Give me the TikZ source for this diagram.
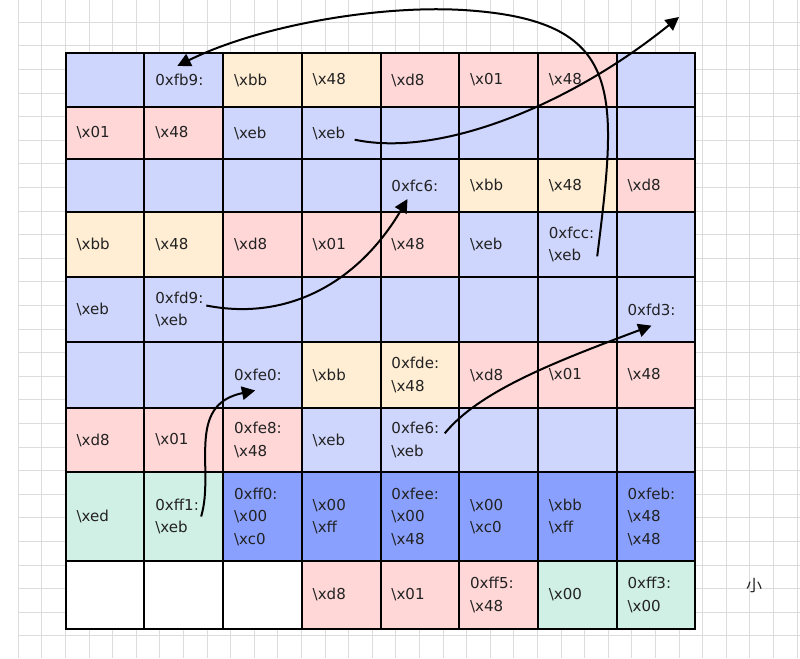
\documentclass[tikz,border=0pt]{standalone}
\usepackage{fontspec}
\setmainfont{DejaVu Sans}
\newfontfamily\cjkfont{Noto Sans CJK SC}
\usetikzlibrary{arrows.meta}
\definecolor{memBlue}{HTML}{CFD6FE}
\definecolor{memPink}{HTML}{FFD7D7}
\definecolor{memYel}{HTML}{FFEDD4}
\definecolor{memMint}{HTML}{D0F0E6}
\definecolor{memDeep}{HTML}{8AA0FF}
\definecolor{memGrid}{HTML}{DCDCDC}
\definecolor{memText}{HTML}{222222}
\newcommand\hx[1]{\textbackslash x#1}

\begin{document}
\begin{tikzpicture}[x=0.75pt, y=-0.75pt,
  gridline/.style={memGrid, line width=0.75pt},
  cell/.style={draw=black, line width=1.5pt, minimum width=59.03pt, inner sep=0pt, outer sep=0pt},
  lbl/.style={anchor=west, inner sep=0pt, align=left, text=memText, font=\fontsize{11.3}{16.9}\selectfont},
  jump/.style={line width=1.5pt, -{Triangle[length=10pt, width=10pt]}}]
  \useasboundingbox (0,0) rectangle (800,658);
  % background grid
  \foreach \gx in {18.3,41.9,...,800} \draw[gridline] (\gx,0) -- (\gx,658);
  \foreach \gy in {22.3,45.9,...,658} \draw[gridline] (18.3,\gy) -- (800,\gy);

  % memory cells, one row at a time
  \foreach \r/\yc/\h/\cells in {
    0/80/40.05/{memBlue/{}, memBlue/{0xfb9:}, memYel/{\hx{bb}}, memYel/{\hx{48}}, memPink/{\hx{d8}}, memPink/{\hx{01}}, memPink/{\hx{48}}, memBlue/{}},
    1/133/39.45/{memPink/{\hx{01}}, memPink/{\hx{48}}, memBlue/{\hx{eb}}, memBlue/{\hx{eb}}, memBlue/{}, memBlue/{}, memBlue/{}, memBlue/{}},
    2/185.65/39.5/{memBlue/{}, memBlue/{}, memBlue/{}, memBlue/{}, memBlue/{0xfc6:}, memYel/{\hx{bb}}, memYel/{\hx{48}}, memPink/{\hx{d8}}},
    3/244.35/48.5/{memYel/{\hx{bb}}, memYel/{\hx{48}}, memPink/{\hx{d8}}, memPink/{\hx{01}}, memPink/{\hx{48}}, memBlue/{\hx{eb}}, memBlue/{0xfcc:\\\hx{eb}}, memBlue/{}},
    4/309.5/49.2/{memBlue/{\hx{eb}}, memBlue/{0xfd9:\\\hx{eb}}, memBlue/{}, memBlue/{}, memBlue/{}, memBlue/{}, memBlue/{}, memBlue/{0xfd3:}},
    5/375/49.05/{memBlue/{}, memBlue/{}, memBlue/{0xfe0:}, memYel/{\hx{bb}}, memYel/{0xfde:\\\hx{48}}, memPink/{\hx{d8}}, memPink/{\hx{01}}, memPink/{\hx{48}}},
    6/440/48.45/{memPink/{\hx{d8}}, memPink/{\hx{01}}, memPink/{0xfe8:\\\hx{48}}, memBlue/{\hx{eb}}, memBlue/{0xfe6:\\\hx{eb}}, memBlue/{}, memBlue/{}, memBlue/{}},
    7/516.5/66.3/{memMint/{\hx{ed}}, memMint/{0xff1:\\\hx{eb}}, memDeep/{0xff0:\\\hx{00}\\\hx{c0}}, memDeep/{\hx{00}\\\hx{ff}}, memDeep/{0xfee:\\\hx{00}\\\hx{48}}, memDeep/{\hx{00}\\\hx{c0}}, memDeep/{\hx{bb}\\\hx{ff}}, memDeep/{0xfeb:\\\hx{48}\\\hx{48}}},
    8/594.85/51.2/{white/{}, white/{}, white/{}, memPink/{\hx{d8}}, memPink/{\hx{01}}, memPink/{0xff5:\\\hx{48}}, memMint/{\hx{00}}, memMint/{0xff3:\\\hx{00}}}}
  {
    \foreach \f/\t [count=\c from 0] in \cells {
      \node[cell, fill=\f, minimum height=\h pt] (c\r\c) at (105.05+78.7*\c, \yc) {};
      \ifx\t\empty\else
        \node[lbl] (t\r\c) at ([xshift=8pt]c\r\c.west) {\t};
      \fi
    }
  }

  % jumps
  \coordinate (outside) at (679,17);
  \draw[jump] ([xshift=7pt, yshift=-5pt]t13.east) .. controls (440,158) and (570,105) .. (outside);
  \draw[jump] ([xshift=2pt, yshift=-9pt]t36.east) .. controls (618,90) and (625,20) .. (463,10)
    .. controls (380,5) and (260,25) .. ([xshift=-1.5pt, yshift=6pt]t01.north);
  \draw[jump] ([xshift=2pt, yshift=3pt]t41.east) .. controls (290,322) and (360,280) .. ([xshift=-5.5pt, yshift=-5.5pt]t24.south);
  \draw[jump] ([xshift=1.5pt]t71.east) .. controls (215,470) and (185,405) .. ([xshift=-2pt, yshift=-7pt]t52.south);
  \draw[jump] ([xshift=4pt, yshift=5pt]t64.east) .. controls (480,390) and (560,360) .. ([yshift=-7.5pt]t47.south);

  \node[text=memText, font=\cjkfont\fontsize{12}{14}\selectfont] (side) at (754,586) {小};
\end{tikzpicture}
\end{document}
